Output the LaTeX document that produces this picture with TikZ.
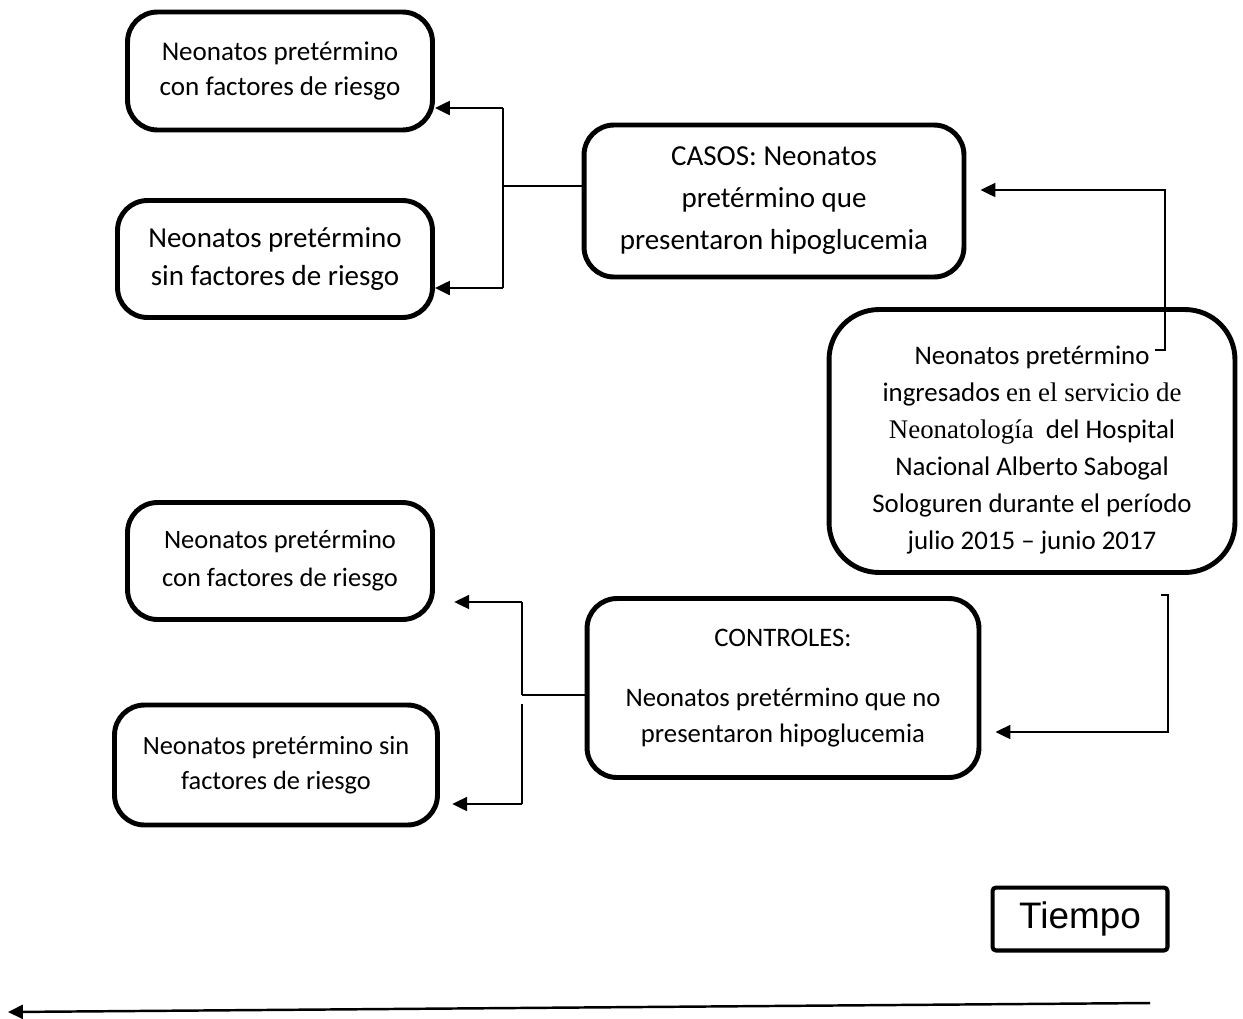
\documentclass[tikz,border=0pt]{standalone}
\usepackage{fontspec}
\setmainfont{Carlito}
\newfontfamily\timesfont{Liberation Serif}
\newfontfamily\arialfont{Liberation Sans}
\usetikzlibrary{arrows.meta,positioning}
\tikzset{
    block/.style={rectangle, rounded corners=0.6cm, draw=black, line width=2.8pt, align=center, inner sep=0pt},
    small_text/.style={font=\fontsize{15.2pt}{20.5pt}\selectfont},
    big_text/.style={font=\fontsize{16.5pt}{21.6pt}\selectfont},
    line/.style={-{Triangle[length=8.5pt,width=8pt]}, line width=1.1pt},
    link/.style={line width=1.1pt},
}

\begin{document}
\begin{tikzpicture}[x=0.02cm, y=-0.02cm]
    \useasboundingbox (0,0) rectangle (1243,1018);

    % Nodes of the study design
    \node[block, font=\fontsize{15.3pt}{21pt}\selectfont, minimum width=8.12cm, minimum height=5.26cm, rounded corners=1cm] (poblacion) at (1032,441)
        {\rule{0pt}{21pt}Neonatos pretérmino\\ingresados {\timesfont en el servicio de}\\{\timesfont Neonatología}\ \ del Hospital\\Nacional Alberto Sabogal\\Sologuren durante el período\\julio 2015 -- junio 2017};
    \node[block, font=\fontsize{16.5pt}{23.9pt}\selectfont, minimum width=7.6cm, minimum height=3.04cm] (casos) at (774,201)
        {CASOS: Neonatos\\pretérmino que\\presentaron hipoglucemia};
    \node[block, small_text, minimum width=7.84cm, minimum height=3.58cm] (controles) at (783,688)
        {CONTROLES:\\[14pt]Neonatos pretérmino que no\\presentaron hipoglucemia};

    \node[block, font=\fontsize{15.4pt}{19.9pt}\selectfont, minimum width=6.1cm, minimum height=2.36cm] (casos_con) at (280,71)
        {Neonatos pretérmino\\con factores de riesgo};
    \node[block, big_text, minimum width=6.3cm, minimum height=2.34cm] (casos_sin) at (275,259)
        {Neonatos pretérmino\\sin factores de riesgo};
    \node[block, font=\fontsize{15.1pt}{21.6pt}\selectfont, minimum width=6.1cm, minimum height=2.34cm] (controles_con) at (280,561)
        {Neonatos pretérmino\\con factores de riesgo};
    \node[block, font=\fontsize{15pt}{20pt}\selectfont, minimum width=6.46cm, minimum height=2.4cm] (controles_sin) at (276,765)
        {Neonatos pretérmino sin\\factores de riesgo};

    \node[rectangle, rounded corners=2pt, draw=black, line width=2.3pt, minimum width=3.5cm, minimum height=1.26cm,
        font=\arialfont\fontsize{21pt}{25pt}\selectfont] (tiempo) at (1080,919) {Tiempo};

    % Junctions
    \coordinate (casos_j) at (503,186);
    \coordinate (casos_jt) at (503,108);
    \coordinate (casos_jb) at (503,288);
    \coordinate (ctrl_j) at (522,695);
    \coordinate (ctrl_jt) at (522,602);
    \coordinate (ctrl_jb) at (522,804);
    \coordinate (up_start) at (1155,350);
    \coordinate (up_turn) at (1165,190);
    \coordinate (down_start) at (1161,595);
    \coordinate (down_turn) at (1168,732);
    \coordinate (t_start) at (1150,1003);
    \coordinate (t_end) at (8,1012);

    % Lines
    \draw[line, shorten >=8pt] (up_start) -- (up_start -| up_turn) -- (up_turn) -- (casos.east |- up_turn);
    \draw[line, shorten >=8pt] (down_start) -- (down_start -| down_turn) -- (down_turn) -- (controles.east |- down_turn);

    \draw[link] (casos_j -| casos.west) -- (casos_j);
    \draw[link] (casos_jt) -- (casos_jb);
    \draw[line] (casos_jt) -- (casos_jt -| casos_con.east);
    \draw[line] (casos_jb) -- (casos_jb -| casos_sin.east);

    \draw[link] (ctrl_j -| controles.west) -- (ctrl_j);
    \draw[link] (ctrl_jt) -- (ctrl_j);
    \draw[link] ([yshift=-5pt]ctrl_j) -- (ctrl_jb);
    \draw[line, shorten >=11pt] (ctrl_jt) -- (ctrl_jt -| controles_con.east);
    \draw[line, shorten >=7pt] (ctrl_jb) -- (ctrl_jb -| controles_sin.east);

    \draw[line, line width=1.4pt] (t_start) -- (t_end);

\end{tikzpicture}
\end{document}
